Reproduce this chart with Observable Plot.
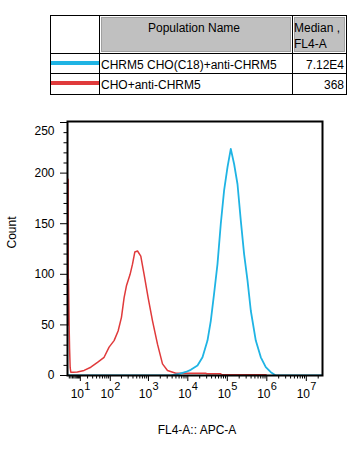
<!DOCTYPE html>
<html>
<head>
<meta charset="utf-8">
<script src="https://cdn.jsdelivr.net/npm/d3@7"></script>
<script src="https://cdn.jsdelivr.net/npm/@observablehq/plot@0.6"></script>
<style>
  html, body { margin: 0; padding: 0; background: #fff; }
  body { width: 358px; height: 450px; overflow: hidden; font-family: "Liberation Sans", Arial, sans-serif; }
  #legend { position: relative; width: 358px; height: 100px; font-size: 12px; color: #000; }
  #legend .ln { position: absolute; background: #000; }
  #legend .hd { position: absolute; background: #c0c0c0; border: 1px solid #a0a0a0; box-sizing: border-box; }
  #legend .tx { position: absolute; white-space: nowrap; line-height: 14px; }
  #legend .sw { position: absolute; height: 4px; }
</style>
</head>
<body>
<div id="legend"></div>
<div id="chart"></div>
<script>
// ---- data ----
const seriesNames = ["CHRM5 CHO(C18)+anti-CHRM5", "CHO+anti-CHRM5"];
const seriesMedians = ["7.12E4", "368"];
const seriesColors = ["#1fb4e4", "#e03a3b"];
const headerName = "Population Name";
const headerStat = ["Median ,", "FL4-A"];

// CHO+anti-CHRM5 histogram (FL4-A value, count)
const redFL = [0, 0.35, 0.45, 0.55, 0.95, 1.15, 1.5, 1.9, 3.3, 7, 14.7, 26, 42.7, 67, 92.7, 127, 163, 200, 235, 272, 337, 389, 446, 524, 636, 773, 980, 1268, 1699, 2278, 3050, 4960, 28500, 30000, 68000, 72000, 950000, 1000000];
const redCount = [194, 194, 50, 95, 44, 27, 8, 3.3, 3.3, 3.5, 5, 8.2, 13, 18, 28, 34.5, 44, 57.5, 77, 89, 100, 110, 122, 123, 118, 100, 77, 54, 31, 11.5, 5, 2.3, 2.3, 1.7, 1.7, 0.7, 0.7, 0];

// CHRM5 CHO(C18)+anti-CHRM5 histogram (FL4-A value, count)
const cyanFL = [0, 3700, 6010, 8880, 11880, 17580, 23550, 31480, 38200, 46270, 56390, 68390, 82970, 101150, 122500, 148700, 181200, 219600, 266200, 324500, 393700, 526300, 705000, 942500, 1262000, 1688000, 25700000];
const cyanCount = [0, 0, 1.7, 3.5, 5.6, 9.9, 18, 34.5, 54, 81, 110, 150, 183, 206, 224, 209, 189, 153, 120, 94, 64, 34.5, 18, 8.2, 3.3, 0, 0];

const xMax = 25700000;
const yMax = 251;
const xExponents = [1, 2, 3, 4, 5, 6, 7];
const yMajor = [0, 50, 100, 150, 200];
const yTop = [250];
const xLabel = "FL4-A:: APC-A";
const yLabel = "Count";

// ---- legend table ----
const L = document.getElementById("legend");
function el(cls, css, text) {
  const d = document.createElement("div");
  d.className = cls;
  Object.assign(d.style, css);
  if (text != null) d.textContent = text;
  L.appendChild(d);
  return d;
}
const colX = [50, 99, 292, 346];
const rowY = [15, 53, 73, 94];
for (const x of colX) el("ln", {left: x + "px", top: rowY[0] + "px", width: "1px", height: (rowY[3] - rowY[0] + 1) + "px"});
for (const y of rowY) el("ln", {left: colX[0] + "px", top: y + "px", width: (colX[3] - colX[0] + 1) + "px", height: "1px"});
el("hd", {left: "101px", top: "17px", width: "190px", height: "35px"});
el("hd", {left: "294px", top: "17px", width: "51px", height: "35px"});
el("tx", {left: "101px", top: "21px", width: "186px", textAlign: "center"}, headerName);
el("tx", {left: "294px", top: "21px"}, headerStat[0]);
el("tx", {left: "294px", top: "37px"}, headerStat[1]);
seriesNames.forEach((n, i) => {
  const top = rowY[i + 1];
  el("sw", {left: "51px", top: (top + 8) + "px", width: "48px", background: seriesColors[i]});
  el("tx", {left: "101px", top: (top + 5) + "px"}, n);
  el("tx", {left: "294px", top: (top + 5) + "px", width: "50px", textAlign: "right"}, seriesMedians[i]);
});

// ---- chart ----
const red = redFL.map((v, i) => ({v, c: redCount[i]}));
const cyan = cyanFL.map((v, i) => ({v, c: cyanCount[i]}));
const xMajor = xExponents.map(k => Math.pow(10, k));
const xMinor = [];
for (let k = 0; k <= 7; k++) {
  for (let m = (k === 0 ? 1 : 2); m <= 9; m++) {
    const t = m * Math.pow(10, k);
    if (t <= xMax) xMinor.push(t);
  }
}
const yMinor = d3.range(10, 251, 10).filter(d => d % 50 !== 0);

const chart = Plot.plot({
  width: 358,
  height: 350,
  marginLeft: 67,
  marginRight: 36,
  marginTop: 21,
  marginBottom: 75,
  style: {fontFamily: "'Liberation Sans', Arial, sans-serif", fontSize: "12px", color: "#000", background: "#fff"},
  x: {type: "symlog", constant: 9, domain: [0, xMax]},
  y: {domain: [0, yMax]},
  marks: [
    Plot.line(red, {x: "v", y: "c", stroke: seriesColors[1], strokeWidth: 1.5, clip: true}),
    Plot.line(cyan, {x: "v", y: "c", stroke: seriesColors[0], strokeWidth: 1.8, clip: true}),
    Plot.axisY(yMinor, {tickSize: 3.5, tickFormat: () => "", label: null, stroke: "#000"}),
    Plot.axisY(yMajor, {tickSize: 7, tickPadding: 6, fontSize: 12, label: null, stroke: "#000"}),
    Plot.axisY(yTop, {tickSize: 7, tickFormat: () => "", label: null, stroke: "#000"}),
    Plot.text(yTop, {y: d => d, text: d => String(d), frameAnchor: "left", textAnchor: "end", dx: -13, dy: 9, fontSize: 12}),
    Plot.axisX(xMinor, {tickSize: 3.5, tickFormat: () => "", label: null, stroke: "#000"}),
    Plot.axisX(xMajor, {tickSize: 6, tickFormat: () => "", label: null, stroke: "#000"}),
    Plot.text(xMajor, {x: d => d, text: () => "10", frameAnchor: "bottom", dx: -3, dy: 22, fontSize: 12}),
    Plot.text(xExponents, {x: k => Math.pow(10, k), text: k => String(k), frameAnchor: "bottom", dx: 7, dy: 14, fontSize: 11}),
    Plot.text([xLabel], {frameAnchor: "bottom", dx: 2, dy: 58, fontSize: 12}),
    Plot.text([yLabel], {frameAnchor: "left", dx: -55, rotate: -90, fontSize: 12}),
    Plot.frame({stroke: "#000", strokeWidth: 2})
  ]
});
document.getElementById("chart").appendChild(chart);
</script>
</body>
</html>
